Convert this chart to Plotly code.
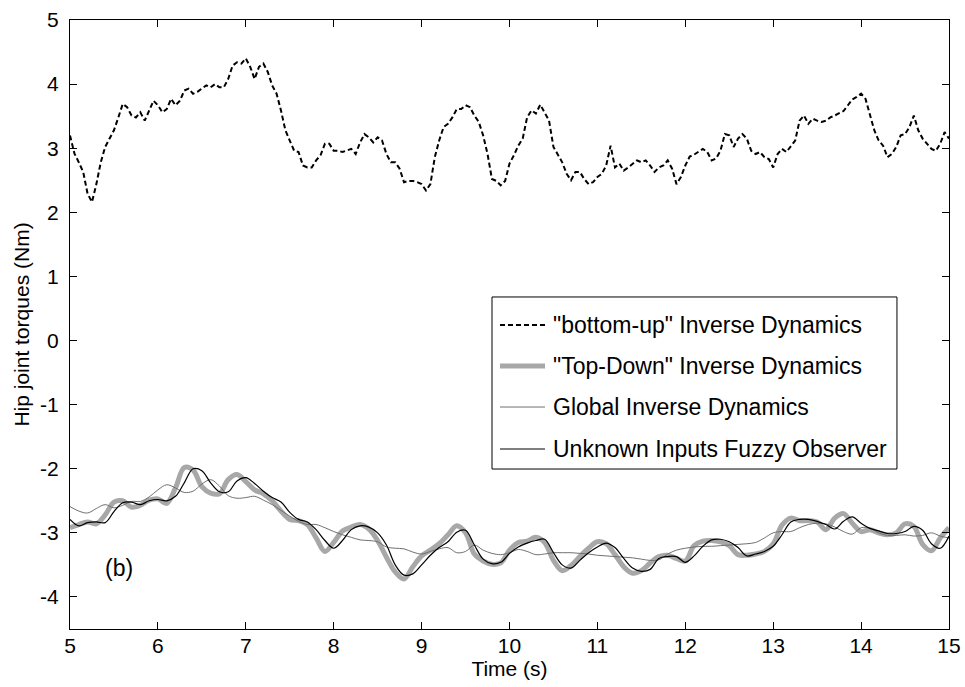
import plotly.graph_objects as go

# ---- data -------------------------------------------------------------
# "bottom-up" inverse dynamics, sampled every 0.05 s from 5 s to 15 s
t_fine = [round(5 + 0.05 * i, 2) for i in range(201)]
bottom_up = [
    3.20, 2.92, 2.78, 2.63, 2.29, 2.16, 2.44, 2.78, 3.02, 3.15,
    3.28, 3.48, 3.69, 3.64, 3.51, 3.48, 3.56, 3.43, 3.59, 3.74,
    3.67, 3.56, 3.61, 3.77, 3.67, 3.74, 3.90, 3.93, 3.85, 3.88,
    3.93, 3.98, 3.95, 4.00, 3.95, 3.95, 4.08, 4.29, 4.34, 4.32,
    4.40, 4.27, 4.08, 4.27, 4.32, 4.19, 3.98, 3.85, 3.59, 3.28,
    3.12, 2.96, 2.94, 2.73, 2.70, 2.70, 2.81, 2.89, 3.07, 3.07,
    2.96, 2.96, 2.94, 2.96, 2.99, 2.91, 3.09, 3.22, 3.17, 3.09,
    3.17, 3.12, 2.91, 2.78, 2.78, 2.68, 2.47, 2.49, 2.49, 2.47,
    2.44, 2.34, 2.44, 2.86, 3.12, 3.33, 3.38, 3.48, 3.61, 3.61,
    3.67, 3.64, 3.51, 3.41, 3.20, 2.91, 2.52, 2.49, 2.42, 2.49,
    2.76, 2.89, 3.04, 3.15, 3.48, 3.59, 3.54, 3.68, 3.56, 3.43,
    3.02, 2.91, 2.78, 2.60, 2.50, 2.63, 2.63, 2.52, 2.44, 2.47,
    2.55, 2.60, 2.73, 3.04, 2.70, 2.76, 2.65, 2.70, 2.76, 2.81,
    2.78, 2.81, 2.73, 2.63, 2.70, 2.73, 2.81, 2.68, 2.44, 2.55,
    2.73, 2.87, 2.90, 2.94, 2.99, 2.94, 2.81, 2.84, 2.96, 3.22,
    3.20, 3.02, 3.15, 3.22, 3.15, 2.96, 2.91, 2.94, 2.86, 2.83,
    2.70, 2.91, 2.99, 2.94, 3.04, 3.12, 3.43, 3.51, 3.38, 3.46,
    3.43, 3.41, 3.43, 3.48, 3.51, 3.54, 3.58, 3.67, 3.76, 3.80,
    3.85, 3.77, 3.54, 3.28, 3.12, 3.04, 2.86, 2.91, 3.02, 3.20,
    3.22, 3.33, 3.51, 3.28, 3.15, 3.07, 2.99, 2.96, 3.07, 3.25,
    3.15,
]

# smoother estimates, sampled every 0.1 s from 5 s to 15 s
t_coarse = [round(5 + 0.1 * i, 1) for i in range(101)]
top_down = [
    -2.92, -2.87, -2.83, -2.86, -2.72, -2.52, -2.50, -2.60, -2.57, -2.49,
    -2.47, -2.54, -2.30, -1.98, -2.02, -2.28, -2.38, -2.39, -2.17, -2.09,
    -2.20, -2.33, -2.39, -2.50, -2.66, -2.79, -2.81, -2.87, -3.08, -3.29,
    -3.15, -2.97, -2.91, -2.87, -2.94, -3.12, -3.38, -3.61, -3.72, -3.53,
    -3.36, -3.27, -3.17, -3.03, -2.89, -3.00, -3.33, -3.44, -3.49, -3.47,
    -3.27, -3.15, -3.13, -3.07, -3.15, -3.43, -3.59, -3.51, -3.37, -3.24,
    -3.14, -3.17, -3.34, -3.53, -3.63, -3.59, -3.47, -3.37, -3.35, -3.40,
    -3.44, -3.20, -3.13, -3.12, -3.14, -3.20, -3.34, -3.35, -3.33, -3.29,
    -3.17, -2.88, -2.77, -2.81, -2.81, -2.83, -2.95, -2.77, -2.70, -2.85,
    -2.98, -2.95, -3.00, -3.03, -3.00, -2.86, -2.90, -3.18, -3.28, -3.08,
    -2.92,
]
global_id = [
    -2.59, -2.66, -2.69, -2.62, -2.56, -2.61, -2.57, -2.51, -2.51, -2.44,
    -2.33, -2.25, -2.30, -2.37, -2.35, -2.24, -2.17, -2.27, -2.42, -2.46,
    -2.45, -2.43, -2.49, -2.56, -2.65, -2.74, -2.82, -2.87, -2.87, -2.92,
    -2.98, -3.03, -3.07, -3.11, -3.12, -3.14, -3.22, -3.24, -3.25, -3.30,
    -3.33, -3.29, -3.25, -3.23, -3.31, -3.29, -3.19, -3.27, -3.32, -3.34,
    -3.31, -3.26, -3.29, -3.34, -3.33, -3.31, -3.31, -3.31, -3.32, -3.33,
    -3.35, -3.36, -3.37, -3.38, -3.39, -3.41, -3.43, -3.42, -3.33, -3.27,
    -3.24, -3.22, -3.21, -3.21, -3.20, -3.19, -3.18, -3.17, -3.15, -3.08,
    -3.00, -2.98, -2.98, -2.92, -2.87, -2.85, -2.86, -2.91, -2.98, -3.02,
    -2.92, -2.93, -3.00, -3.04, -3.04, -3.03, -3.05, -3.04, -3.00, -3.05,
    -3.08,
]
fuzzy_observer = [
    -2.79, -2.89, -2.84, -2.83, -2.84, -2.67, -2.53, -2.52, -2.56, -2.50,
    -2.48, -2.50, -2.43, -2.22, -2.00, -2.03, -2.22, -2.36, -2.36, -2.19,
    -2.14, -2.23, -2.35, -2.45, -2.52, -2.68, -2.79, -2.83, -2.95, -3.12,
    -3.24, -3.12, -2.95, -2.89, -2.91, -3.00, -3.19, -3.50, -3.66, -3.64,
    -3.50, -3.35, -3.23, -3.14, -2.99, -2.96, -3.19, -3.41, -3.48, -3.46,
    -3.32, -3.22, -3.16, -3.12, -3.10, -3.31, -3.50, -3.55, -3.43, -3.31,
    -3.22, -3.16, -3.23, -3.40, -3.55, -3.60, -3.57, -3.40, -3.37, -3.37,
    -3.46, -3.36, -3.21, -3.11, -3.10, -3.14, -3.23, -3.36, -3.33, -3.29,
    -3.21, -3.03, -2.83, -2.79, -2.79, -2.82, -2.87, -2.94, -2.82, -2.75,
    -2.85, -2.93, -2.97, -3.01, -3.01, -2.98, -2.90, -2.96, -3.17, -3.24,
    -3.05,
]

x_ticks = [5, 6, 7, 8, 9, 10, 11, 12, 13, 14, 15]
x_tick_text = ["5", "6", "7", "8", "9", "10", "11", "12", "13", "14", "15"]
y_ticks = [-4, -3, -2, -1, 0, 1, 2, 3, 4, 5]
y_tick_text = ["-4", "-3", "-2", "-1", "0", "1", "2", "3", "4", "5"]

legend_names = [
    '"bottom-up" Inverse Dynamics',
    '"Top-Down" Inverse Dynamics',
    "Global Inverse Dynamics",
    "Unknown Inputs Fuzzy Observer",
]

# ---- styles -----------------------------------------------------------
FONT = "Liberation Sans, Arial, Helvetica, sans-serif"
FS = 21
LEG_FS = 23
styles = [
    dict(color="black", width=2, dash="5px,3px"),
    dict(color="#a8a8a8", width=5, dash="solid"),
    dict(color="#707070", width=1, dash="solid"),
    dict(color="black", width=1.2, dash="solid"),
]

fig = go.Figure()
fig.add_trace(go.Scatter(x=t_fine, y=bottom_up, mode="lines",
                         line=styles[0], name=legend_names[0]))
fig.add_trace(go.Scatter(x=t_coarse, y=top_down, mode="lines",
                         line=dict(**styles[1], shape="spline", smoothing=1.0),
                         name=legend_names[1]))
fig.add_trace(go.Scatter(x=t_coarse, y=global_id, mode="lines",
                         line=dict(**styles[2], shape="spline", smoothing=1.0),
                         name=legend_names[2]))
fig.add_trace(go.Scatter(x=t_coarse, y=fuzzy_observer, mode="lines",
                         line=dict(**styles[3], shape="spline", smoothing=1.0),
                         name=legend_names[3]))

# ---- boxed legend drawn in paper coordinates ---------------------------
box = dict(x0=0.4801, x1=0.9408, y0=0.2627, y1=0.5452)
row_y = [0.4992, 0.4319, 0.3645, 0.2956]
sample_x = (0.4892, 0.5404)
text_x = 0.5472

shapes = [dict(type="rect", xref="paper", yref="paper", **box,
               line=dict(color="black", width=1), fillcolor="white",
               layer="above")]
annotations = []
for name, st, yy in zip(legend_names, styles, row_y):
    shapes.append(dict(type="line", xref="paper", yref="paper",
                       x0=sample_x[0], x1=sample_x[1], y0=yy, y1=yy,
                       line=dict(color=st["color"], width=st["width"], dash=st["dash"]),
                       layer="above"))
    annotations.append(dict(x=text_x, y=yy, xref="paper", yref="paper",
                            text=name, showarrow=False, xanchor="left",
                            yanchor="middle",
                            font=dict(family=FONT, size=LEG_FS, color="black")))

annotations.append(dict(x=5.56, y=-3.55, xref="x", yref="y", text="(b)",
                        showarrow=False, xanchor="center", yanchor="middle",
                        font=dict(family=FONT, size=LEG_FS, color="black")))

axis_common = dict(
    showgrid=False, zeroline=False, showline=True, linecolor="black",
    linewidth=1, mirror="ticks", ticks="inside", ticklen=7, tickwidth=1,
    tickcolor="black", automargin=False,
    tickfont=dict(family=FONT, size=FS, color="black"),
)

fig.update_layout(
    width=965, height=687,
    margin=dict(l=70, r=16, t=20, b=58),
    paper_bgcolor="white", plot_bgcolor="white",
    showlegend=False,
    font=dict(family=FONT, size=FS, color="black"),
    xaxis=dict(range=[5, 15], tickvals=x_ticks, ticktext=x_tick_text,
               ticklabelstandoff=-2,
               title=dict(text="Time (s)", standoff=0,
                          font=dict(family=FONT, size=FS)),
               **axis_common),
    yaxis=dict(range=[-4.5, 5], tickvals=y_ticks, ticktext=y_tick_text,
               ticklabelstandoff=6,
               title=dict(text="Hip joint torques (Nm)", standoff=4,
                          font=dict(family=FONT, size=FS)),
               **axis_common),
    shapes=shapes,
    annotations=annotations,
)

fig.write_html("out.html")
